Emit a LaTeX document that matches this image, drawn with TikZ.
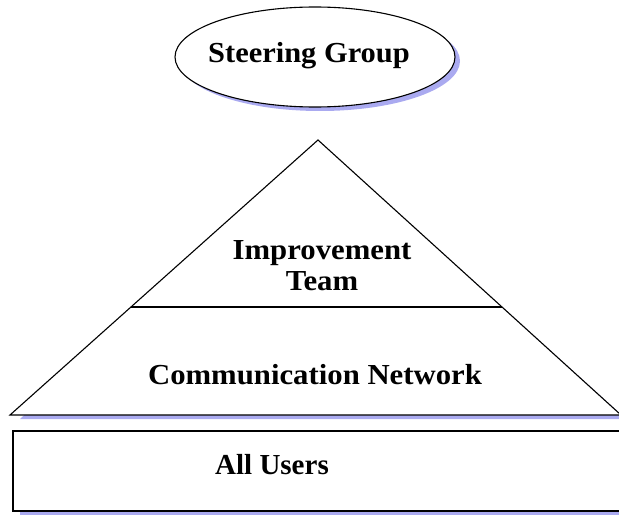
\documentclass[tikz,border=0pt]{standalone}
\usepackage{fontspec}
\setmainfont{Liberation Serif}
\usetikzlibrary{shapes.geometric}
\begin{document}
\begin{tikzpicture}[x=1pt,y=-1pt,
  shade/.style={fill={rgb,255:red,170;green,170;blue,240}, draw=none},
  outline/.style={draw=black, line width=1.1pt, fill=white},
  lbl/.style={font=\fontsize{29}{33}\selectfont\bfseries, align=center, inner sep=0pt}]
\useasboundingbox (0,0) rectangle (619,516);
\clip (0,0) rectangle (619,516);
% shadows
\fill[shade] (320,61) ellipse [x radius=140, y radius=50];
\fill[shade] (322,144) -- (626,419) -- (20,419) -- cycle;
\fill[shade] (20,435) rectangle (640,515);
% ellipse
\node[outline, ellipse, minimum width=280, minimum height=100, inner sep=0pt] (sg) at (315,57) {};
\node[lbl, xscale=1.05] (sgt) at (309,56) {Steering Group};
% triangle
\coordinate (apex) at (318,140);
\coordinate (bl) at (10,415);
\coordinate (br) at (621,415);
\draw[outline, line join=miter] (apex) -- (br) -- (bl) -- cycle;
\coordinate (dl) at (131,307);
\coordinate (dr) at (502,307);
\draw[line width=1.1pt] (dl) -- (dr);
\node[lbl, xscale=1.06] (it) at (322,266) {Improvement\\[-2pt]Team};
\node[lbl, xscale=1.06] (cn) at (315,375) {Communication Network};
% rectangle
\draw[outline] (13,431) rectangle (640,511);
\node[lbl] (au) at (272,465) {All Users};
\end{tikzpicture}
\end{document}
